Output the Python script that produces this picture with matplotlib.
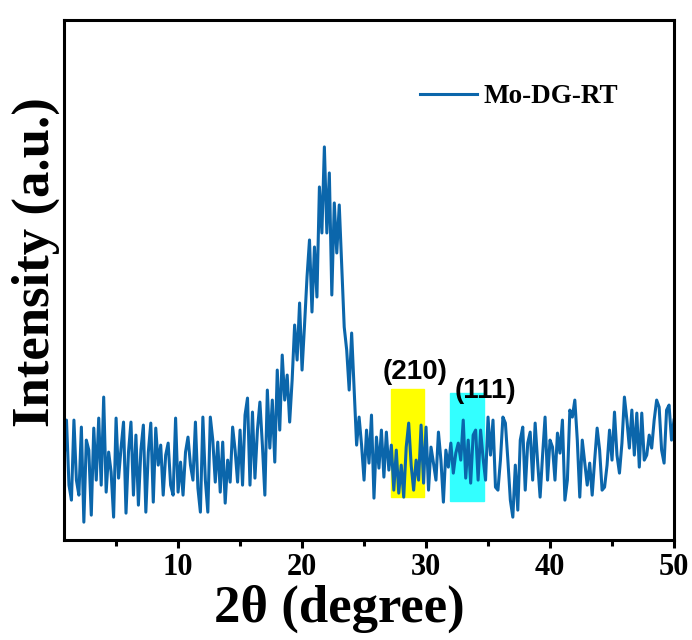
import numpy as np
import matplotlib
matplotlib.use('Agg')
from matplotlib import pyplot as plt
from matplotlib.patches import Rectangle

# 2theta grid: 0.8 .. 50.0 deg, step 0.2
two_theta = np.round(np.arange(0.8, 50.01, 0.2), 1)

# intensity (a.u.), one row = 10 points (2 deg)
intensity = [
    80, 120, 55, 40, 120, 60, 45, 113, 18, 100,        # 0.8
    90, 25, 112, 60, 122, 55, 143, 48, 88, 68,         # 2.8
    23, 122, 62, 92, 118, 27, 88, 118, 45, 105,        # 4.8
    35, 90, 115, 28, 88, 117, 38, 112, 75, 95,         # 6.8
    45, 85, 97, 55, 45, 122, 48, 78, 45, 88,           # 8.8
    103, 75, 60, 118, 52, 28, 123, 60, 28, 123,        # 10.8
    100, 58, 98, 48, 98, 37, 80, 58, 113, 90,          # 12.8
    58, 110, 55, 125, 142, 55, 128, 62, 110, 138,      # 14.8
    95, 45, 150, 92, 140, 78, 170, 110, 185, 140,      # 16.8
    165, 118, 160, 215, 180, 237, 170, 215, 263, 300,  # 18.8
    228, 293, 243, 353, 307, 393, 307, 367, 245, 337,  # 20.8
    287, 335, 273, 213, 190, 150, 207, 150, 95, 123,   # 22.8
    95, 60, 110, 77, 125, 42, 103, 72, 110, 63,        # 24.8
    108, 70, 95, 50, 90, 47, 75, 43, 93, 117,          # 26.8
    75, 50, 80, 60, 115, 57, 113, 50, 93, 77,          # 28.8
    60, 108, 80, 38, 90, 73, 97, 67, 87, 97,           # 30.8
    80, 120, 62, 100, 57, 105, 110, 60, 110, 82,       # 32.8
    60, 123, 85, 120, 53, 50, 80, 123, 117, 80,        # 34.8
    40, 23, 75, 30, 100, 113, 50, 97, 108, 60,         # 36.8
    117, 78, 43, 85, 123, 60, 100, 93, 60, 107,        # 38.8
    87, 120, 40, 60, 130, 123, 140, 100, 43, 100,      # 40.8
    77, 55, 77, 45, 80, 112, 90, 50, 53, 75,           # 42.8
    110, 80, 128, 85, 67, 97, 143, 120, 92, 130,       # 44.8
    85, 127, 73, 127, 80, 85, 105, 92, 120, 140,       # 46.8
    133, 90, 77, 130, 135, 100, 120,                   # 48.8
]

peak_labels = ['(210)', '(111)']
peak_pos = [29.1, 34.8]

plt.rcParams['font.family'] = ['Liberation Serif', 'DejaVu Serif']
plt.rcParams['font.weight'] = 'bold'

fig = plt.figure(figsize=(6.92, 6.40), dpi=100)
ax = fig.add_axes([0.0925, 0.156, 0.8815, 0.813])

# highlighted reflections
ax.add_patch(Rectangle((27.2, 43), 2.6, 108, color='#ffff00', zorder=1))
ax.add_patch(Rectangle((31.95, 39), 2.75, 108, color='#33ffff', zorder=1))

ax.plot(two_theta, intensity, color='#0b66ab', lw=2.2, zorder=2, label='Mo-DG-RT')

ax.text(peak_pos[0], 168, peak_labels[0], ha='center', va='center',
        fontsize=20, fontweight='bold', family='Liberation Sans')
ax.text(peak_pos[1], 149, peak_labels[1], ha='center', va='center',
        fontsize=20, fontweight='bold', family='Liberation Sans')

ax.set_xlim(0.8, 50)
ax.set_ylim(0, 520)
ax.set_xticks([10, 20, 30, 40, 50])
ax.set_xticks([5, 15, 25, 35, 45], minor=True)
ax.set_yticks([])
ax.tick_params(axis='x', which='major', direction='out', length=6, width=2.2,
               labelsize=22, pad=3)
ax.tick_params(axis='x', which='minor', direction='out', length=4, width=2.2)
for s in ax.spines.values():
    s.set_linewidth(2.2)

ax.set_xlabel('2θ (degree)', fontsize=38, fontweight='bold')
ax.xaxis.set_label_coords(0.452, -0.085)
ax.set_ylabel('Intensity (a.u.)', fontsize=38, fontweight='bold')
ax.yaxis.set_label_coords(-0.007, 0.535)

ax.legend(loc='center left', bbox_to_anchor=(0.584, 0.852), frameon=False,
          fontsize=19.5, handlelength=2.1, handletextpad=0.25, borderpad=0,
          borderaxespad=0)

fig.savefig('out.png', dpi=100)
